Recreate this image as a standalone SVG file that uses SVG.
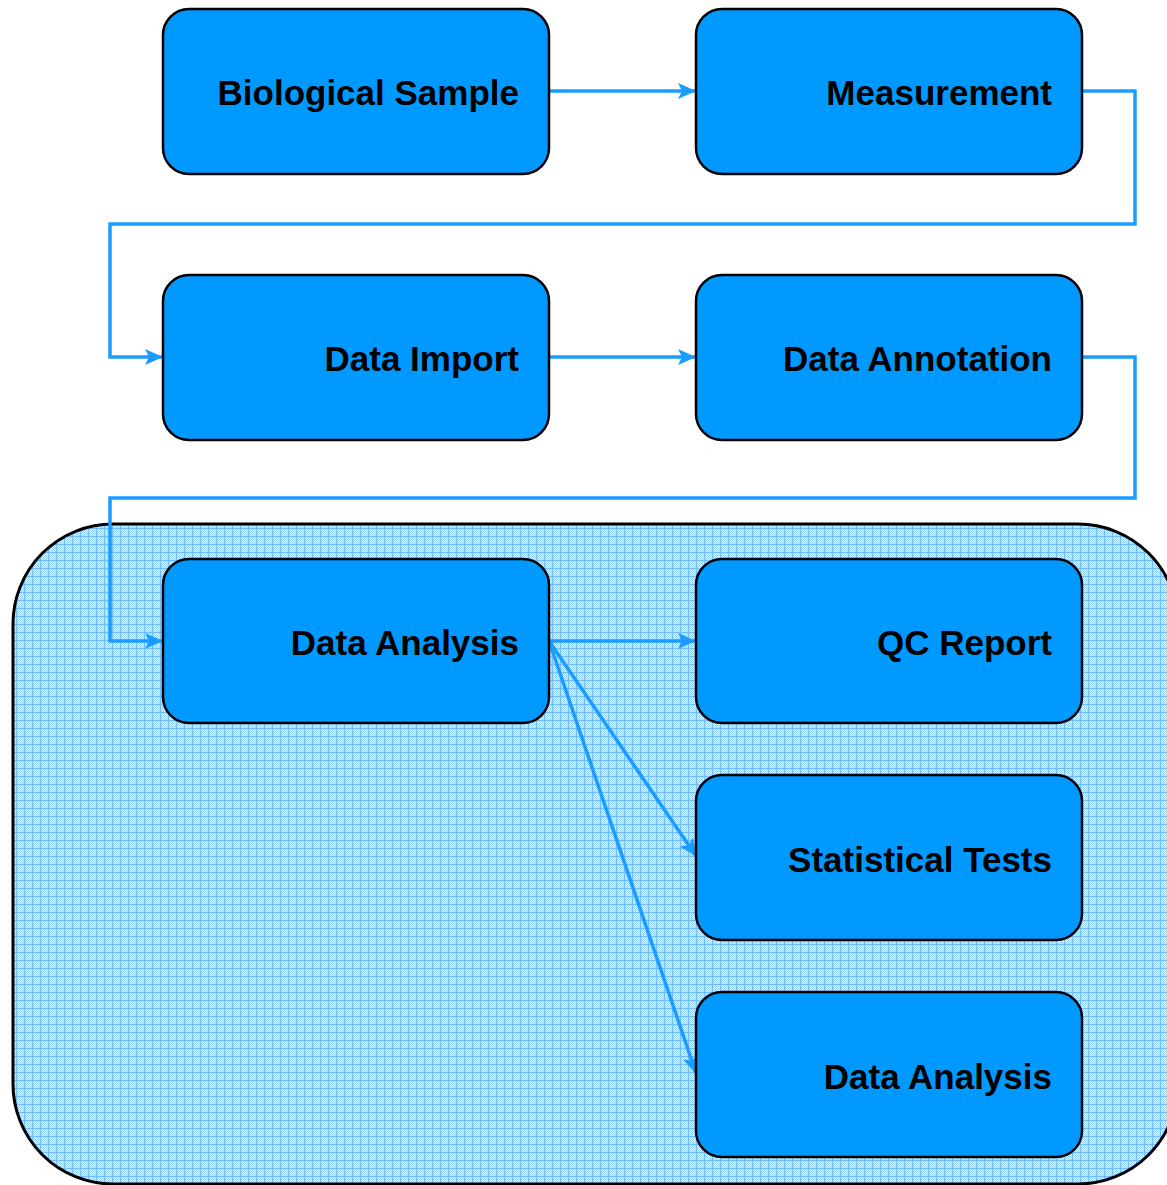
<svg xmlns="http://www.w3.org/2000/svg" width="1167" height="1185" viewBox="0 0 1167 1185">
  <style>
    .node rect { fill: #0099ff; stroke: #000; stroke-width: 2.5; }
    .node text { font-family: "Liberation Sans", Arial, sans-serif; font-weight: bold; font-size: 35px; fill: #000; text-anchor: end; }
    .conn { fill: none; stroke: #1a9dff; stroke-width: 3.5; }
  </style>
  <defs>
    <!-- fine dither used inside the grid cells -->
    <pattern id="dither" width="2" height="2" patternUnits="userSpaceOnUse">
      <rect width="2" height="2" fill="#e2f2ff"/>
      <rect x="0" y="0" width="1" height="1" fill="#9ad2ff"/>
      <rect x="1" y="1" width="1" height="1" fill="#9ad2ff"/>
    </pattern>
    <!-- grid hatch for the analysis area -->
    <pattern id="grid" width="8" height="8" patternUnits="userSpaceOnUse">
      <rect width="8" height="8" fill="url(#dither)"/>
      <rect x="0" y="0" width="8" height="1" fill="#6fbdff"/>
      <rect x="0" y="0" width="1" height="8" fill="#6fbdff"/>
    </pattern>
    <marker id="arrow" viewBox="0 0 18 16" refX="17" refY="8" markerWidth="18" markerHeight="16" markerUnits="userSpaceOnUse" orient="auto">
      <path d="M0,0 L18,8 L0,16 L4,8 Z" fill="#1a9dff"/>
    </marker>
  </defs>

  <!-- analysis area -->
  <g id="analysis-area">
    <rect x="13" y="524" width="1165" height="660" rx="100" ry="100" fill="url(#grid)" stroke="#000" stroke-width="3"/>
  </g>

  <!-- connectors -->
  <g id="connectors">
    <path class="conn" d="M549,91 L695,91" marker-end="url(#arrow)"/>
    <path class="conn" d="M1082,91 L1135,91 L1135,224 L110,224 L110,357 L162,357" marker-end="url(#arrow)"/>
    <path class="conn" d="M549,357 L695,357" marker-end="url(#arrow)"/>
    <path class="conn" d="M1082,357 L1135,357 L1135,498 L110,498 L110,641 L162,641" marker-end="url(#arrow)"/>
    <path class="conn" d="M549,641 L695,641" marker-end="url(#arrow)"/>
    <path class="conn" d="M549,641 L696,856" marker-end="url(#arrow)"/>
    <path class="conn" d="M549,641 L696,1073" marker-end="url(#arrow)"/>
  </g>

  <g id="biological-sample" class="node">
    <rect x="163" y="9" width="386" height="165" rx="26" ry="26"/>
    <text x="519" y="105">Biological Sample</text>
  </g>
  <g id="measurement" class="node">
    <rect x="696" y="9" width="386" height="165" rx="26" ry="26"/>
    <text x="1052" y="105">Measurement</text>
  </g>
  <g id="data-import" class="node">
    <rect x="163" y="275" width="386" height="165" rx="26" ry="26"/>
    <text x="519" y="371">Data Import</text>
  </g>
  <g id="data-annotation" class="node">
    <rect x="696" y="275" width="386" height="165" rx="26" ry="26"/>
    <text x="1052" y="371">Data Annotation</text>
  </g>
  <g id="data-analysis" class="node">
    <rect x="163" y="559" width="386" height="164" rx="26" ry="26"/>
    <text x="519" y="655">Data Analysis</text>
  </g>
  <g id="qc-report" class="node">
    <rect x="696" y="559" width="386" height="164" rx="26" ry="26"/>
    <text x="1052" y="655">QC Report</text>
  </g>
  <g id="statistical-tests" class="node">
    <rect x="696" y="775" width="386" height="165" rx="26" ry="26"/>
    <text x="1052" y="872">Statistical Tests</text>
  </g>
  <g id="data-analysis-2" class="node">
    <rect x="696" y="992" width="386" height="165" rx="26" ry="26"/>
    <text x="1052" y="1089">Data Analysis</text>
  </g>
</svg>
